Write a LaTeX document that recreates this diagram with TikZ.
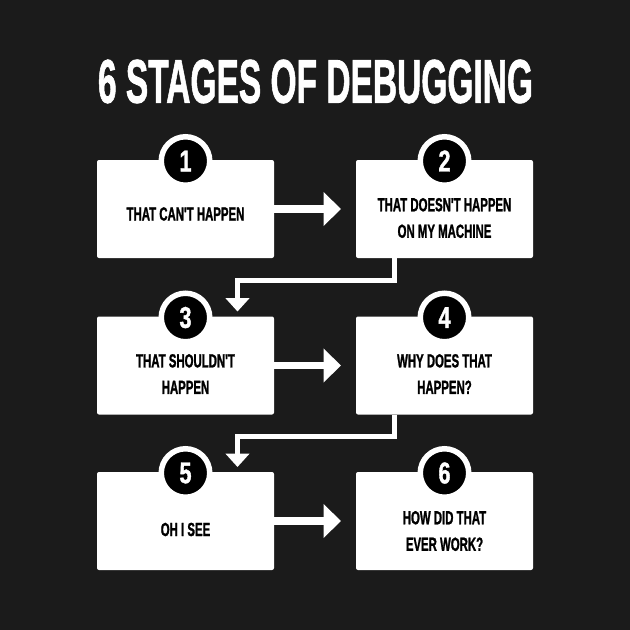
\documentclass[tikz,border=0pt]{standalone}
\usepackage{fontspec}
\usepackage{graphicx}
\setmainfont{Liberation Sans}
\newfontfamily\condfont[FakeStretch=0.6,FakeBold=1.2]{Liberation Sans}
\newfontfamily\digitfont[FakeStretch=0.72,FakeBold=1.2]{Liberation Sans}
\newfontfamily\titlefont[FakeBold=1.5]{Liberation Sans}
\usetikzlibrary{arrows.meta}
\definecolor{bg}{HTML}{1B1B1B}
\begin{document}
\begin{tikzpicture}[x=1pt,y=-1pt,
 box/.style={fill=white, rounded corners=2pt, minimum width=177pt, minimum height=98pt, inner sep=0pt, outer sep=0pt},
 lbl/.style={text=black, font=\condfont\bfseries\fontsize{19}{26.5}\selectfont, align=center, inner sep=0pt},
 badge/.style={circle, fill=black, draw=white, line width=5.5pt, minimum size=48.5pt, inner sep=0pt, text=white, font=\digitfont\bfseries\fontsize{30}{30}\selectfont},
 harrow/.style={draw=white, line width=7.5pt, -{Triangle[width=33pt,length=17.5pt]}},
 varrow/.style={draw=white, line width=5pt, line join=miter, -{Triangle[width=23.5pt,length=13.5pt]}},
]
\fill[bg] (0,0) rectangle (630,630);
\useasboundingbox (0,0) rectangle (630,630);

\node[text=white, inner sep=0pt] (title) at (315.5,81.5) {\resizebox{435pt}{43pt}{\titlefont\bfseries 6 STAGES OF DEBUGGING}};

\node[box] (b1) at (185.5,209) {};
\node[box] (b2) at (444.5,209) {};
\node[box] (b3) at (185.5,365.5) {};
\node[box] (b4) at (444.5,365.5) {};
\node[box] (b5) at (185.5,521) {};
\node[box] (b6) at (444.5,521) {};

\node[badge] (n1) at ([yshift=-1pt]b1.north) {1};
\node[badge] (n2) at ([yshift=-1pt]b2.north) {2};
\node[badge] (n3) at ([yshift=-1pt]b3.north) {3};
\node[badge] (n4) at ([yshift=-1pt]b4.north) {4};
\node[badge] (n5) at ([yshift=-1pt]b5.north) {5};
\node[badge] (n6) at ([yshift=-1pt]b6.north) {6};

\node[lbl] (t1) at (185.5,214) {THAT CAN'T HAPPEN};
\node[lbl] (t2) at (444.5,218) {THAT DOESN'T HAPPEN\\ON MY MACHINE};
\node[lbl] (t3) at (185.5,374) {THAT SHOULDN'T\\HAPPEN};
\node[lbl] (t4) at (444.5,374) {WHY DOES THAT\\HAPPEN?};
\node[lbl] (t5) at (185.5,529.5) {OH I SEE};
\node[lbl] (t6) at (444.5,531) {HOW DID THAT\\EVER WORK?};

\draw[harrow] (b1.east) -- ([xshift=-15pt]b2.west);
\draw[harrow] (b3.east) -- ([xshift=-15pt]b4.west);
\draw[harrow] (b5.east) -- ([xshift=-15pt]b6.west);

\coordinate (k1) at (237.5,280);
\coordinate (k2) at (237.5,436);
\draw[varrow] ([xshift=-50.5pt]b2.south) |- (k1) -- ([xshift=52pt,yshift=5pt]b3.north);
\draw[varrow] ([xshift=-50.5pt]b4.south) |- (k2) -- ([xshift=52pt,yshift=5pt]b5.north);
\end{tikzpicture}
\end{document}
